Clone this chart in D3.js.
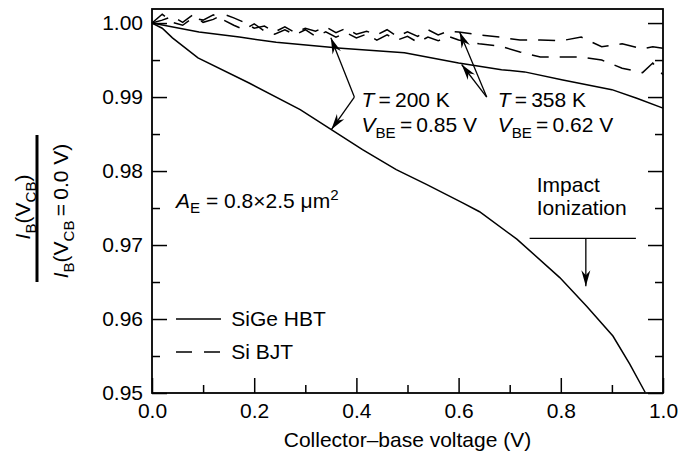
<!DOCTYPE html>
<html>
<head>
<meta charset="utf-8">
<script src="https://cdnjs.cloudflare.com/ajax/libs/d3/7.8.5/d3.min.js"></script>
<style>
  body { margin: 0; background: #fff; }
  text { font-family: "Liberation Sans", Arial, sans-serif; fill: #000; }
</style>
</head>
<body>
<div id="chart"></div>
<script>
// SiGe HBT, T = 200 K (solid, lower)
var hbt200V = [0, 0.02, 0.04, 0.09, 0.19, 0.29, 0.351, 0.412, 0.478, 0.537, 0.608, 0.641, 0.714, 0.798, 0.851, 0.902, 0.935, 0.965];
var hbt200Ratio = [1.0, 0.9993, 0.9980, 0.9953, 0.9919, 0.9883, 0.9856, 0.9829, 0.9802, 0.9782, 0.9757, 0.9745, 0.9708, 0.9656, 0.9617, 0.9577, 0.9539, 0.9501];

// SiGe HBT, T = 358 K (solid, upper)
var hbt358V = [0, 0.092, 0.171, 0.243, 0.37, 0.494, 0.6, 0.684, 0.729, 0.804, 0.9, 0.95, 1.0];
var hbt358Ratio = [1.0, 0.9988, 0.9981, 0.9974, 0.9966, 0.9960, 0.9946, 0.9937, 0.9934, 0.9923, 0.9910, 0.9898, 0.9885];

// Si BJT (dashed), both temperatures share the same bias points
var bjtV = [0, 0.02, 0.04, 0.06, 0.08, 0.10, 0.12, 0.14, 0.16, 0.18, 0.20, 0.22, 0.24, 0.26, 0.28, 0.30,
  0.32, 0.34, 0.36, 0.38, 0.40, 0.42, 0.44, 0.46, 0.48, 0.50, 0.52, 0.54, 0.56, 0.58, 0.60,
  0.64, 0.68, 0.72, 0.76, 0.80, 0.84, 0.88, 0.92, 0.96, 0.98, 1.0];
var bjtRatioA = [1.0, 1.0012, 1.0001, 0.9997, 1.0007, 1.0004, 1.0011, 1.0004, 0.9997, 0.9991, 0.9999, 0.9989, 0.9985, 0.9991, 0.9984, 0.9991,
  0.9982, 0.9988, 0.9981, 0.9987, 0.9980, 0.9985, 0.9977, 0.9984, 0.9977, 0.9982, 0.9974, 0.9981, 0.9976, 0.9982, 0.9977,
  0.9972, 0.9969, 0.9961, 0.9954, 0.9954, 0.9954, 0.9950, 0.9939, 0.9933, 0.9946, 0.9930];
var bjtRatioB = [1.0, 1.0004, 1.0009, 1.0001, 1.0011, 1.0001, 1.0005, 1.0012, 1.0007, 1.0001, 0.9993, 0.9996, 0.9988, 0.9995, 0.9987, 0.9993,
  0.9989, 0.9995, 0.9987, 0.9993, 0.9985, 0.9989, 0.9984, 0.9991, 0.9982, 0.9988, 0.9982, 0.9991, 0.9984, 0.9989, 0.9988,
  0.9984, 0.9981, 0.9977, 0.9977, 0.9976, 0.9981, 0.9968, 0.9972, 0.9965, 0.9968, 0.9966];

// ticks
var xMajorTicks = [0.0, 0.2, 0.4, 0.6, 0.8, 1.0];
var xMinorTicks = [0.1, 0.3, 0.5, 0.7, 0.9];
var yMajorTicks = [0.95, 0.96, 0.97, 0.98, 0.99, 1.00];
var yMinorTicks = [0.955, 0.965, 0.975, 0.985, 0.995];

var width = 678, height = 454;
var margin = { top: 9, right: 15, bottom: 61, left: 152 };
var fs = 21;

var svg = d3.select("#chart").append("svg")
  .attr("width", width)
  .attr("height", height);

var x = d3.scaleLinear().domain([0, 1]).range([margin.left, width - margin.right]);
var y = d3.scaleLinear().domain([0.95, 1.0019]).range([height - margin.bottom, margin.top]);

//arrow head marker
svg.append("defs").append("marker")
  .attr("id", "arrow")
  .attr("markerUnits", "userSpaceOnUse")
  .attr("viewBox", "-18 -6 20 12")
  .attr("markerWidth", 20)
  .attr("markerHeight", 12)
  .attr("refX", 0)
  .attr("refY", 0)
  .attr("orient", "auto")
  .append("path")
  .attr("d", "M0,0 L-16,-4.5 L-11,0 L-16,4.5 Z")
  .style("fill", "#000");

//helper: text with italic / subscript / superscript pieces
function richText(parent, px, py, parts, size, anchor) {
  var t = parent.append("text")
    .attr("x", px)
    .attr("y", py)
    .style("font-size", size + "px")
    .style("text-anchor", anchor || "start");
  var cur = 0;
  parts.forEach(function(p) {
    var off = 0, sz = size;
    if (p.sub) { off = size * 0.28; sz = size * 0.72; }
    if (p.sup) { off = -size * 0.38; sz = size * 0.72; }
    var s = t.append("tspan").text(p.t).attr("dy", off - cur).style("font-size", sz + "px");
    if (p.i) s.style("font-style", "italic");
    cur = off;
  });
  return t;
}

//axes (inward ticks)
function drawAxis(axis, tx, ty, cls) {
  var g = svg.append("g")
    .attr("transform", "translate(" + tx + "," + ty + ")")
    .call(axis);
  g.select(".domain").remove();
  g.selectAll("line").style("stroke", "#000").style("stroke-width", 1.5);
  g.selectAll("text").style("font-size", fs + "px").style("font-family", "'Liberation Sans', Arial, sans-serif");
  return g;
}
var fmt = d3.format(".2f");
drawAxis(d3.axisLeft(y).tickValues(yMajorTicks).tickSize(-15).tickPadding(9).tickFormat(fmt), margin.left, 0);
drawAxis(d3.axisLeft(y).tickValues(yMinorTicks).tickSize(-8).tickFormat(""), margin.left, 0);
drawAxis(d3.axisRight(y).tickValues(yMajorTicks).tickSize(-15).tickFormat(""), width - margin.right, 0);
drawAxis(d3.axisRight(y).tickValues(yMinorTicks).tickSize(-8).tickFormat(""), width - margin.right, 0);
drawAxis(d3.axisBottom(x).tickValues(xMajorTicks).tickSize(-15).tickPadding(10).tickFormat(d3.format(".1f")), 0, height - margin.bottom);
drawAxis(d3.axisBottom(x).tickValues(xMinorTicks).tickSize(-8).tickFormat(""), 0, height - margin.bottom);

//frame
svg.append("rect")
  .attr("x", margin.left)
  .attr("y", margin.top)
  .attr("width", width - margin.left - margin.right)
  .attr("height", height - margin.top - margin.bottom)
  .style("fill", "none")
  .style("stroke", "#000")
  .style("stroke-width", 1.8);

//curves
var line = d3.line()
  .x(function(d) { return x(d[0]); })
  .y(function(d) { return y(d[1]); });
function drawCurve(xs, ys, dashed) {
  svg.append("path")
    .datum(d3.zip(xs, ys))
    .attr("d", line)
    .style("fill", "none")
    .style("stroke", "#000")
    .style("stroke-width", 1.5)
    .style("stroke-dasharray", dashed ? "17,11" : null);
}
drawCurve(bjtV, bjtRatioA, true);
drawCurve(bjtV, bjtRatioB, true);
drawCurve(hbt358V, hbt358Ratio, false);
drawCurve(hbt200V, hbt200Ratio, false);

//annotation arrows
function arrow(x0, y0, x1, y1) {
  svg.append("line")
    .attr("x1", x(x0)).attr("y1", y(y0))
    .attr("x2", x(x1)).attr("y2", y(y1))
    .style("stroke", "#000")
    .style("stroke-width", 1.3)
    .attr("marker-end", "url(#arrow)");
}
arrow(0.396, 0.9900, 0.350, 0.9980);
arrow(0.396, 0.9900, 0.351, 0.9856);
arrow(0.655, 0.9900, 0.602, 0.9988);
arrow(0.655, 0.9900, 0.606, 0.9944);

//T and V_BE labels
richText(svg, x(0.41), y(0.98868), [{ t: "T", i: true }, { t: "\u2009=\u2009200 K" }], fs);
richText(svg, x(0.41), y(0.98531), [{ t: "V", i: true }, { t: "BE", sub: true }, { t: "\u2009=\u20090.85 V" }], fs);
richText(svg, x(0.6765), y(0.98868), [{ t: "T", i: true }, { t: "\u2009=\u2009358 K" }], fs);
richText(svg, x(0.6765), y(0.98531), [{ t: "V", i: true }, { t: "BE", sub: true }, { t: "\u2009=\u20090.62 V" }], fs);

//emitter area
richText(svg, x(0.047), y(0.97507), [{ t: "A", i: true }, { t: "E", sub: true }, { t: " = 0.8\u00d72.5 \u03bcm" }, { t: "2", sup: true }], fs);

//impact ionization
richText(svg, x(0.753), y(0.97722), [{ t: "Impact" }], fs);
richText(svg, x(0.753), y(0.97412), [{ t: "Ionization" }], fs);
svg.append("line")
  .attr("x1", x(0.739)).attr("x2", x(0.947))
  .attr("y1", y(0.97089)).attr("y2", y(0.97089))
  .style("stroke", "#000").style("stroke-width", 1.3);
arrow(0.849, 0.97089, 0.849, 0.96442);

//legend
var legendItems = ["SiGe HBT", "Si BJT"];
var legendY = [0.96, 0.95555];
legendItems.forEach(function(name, i) {
  svg.append("line")
    .attr("x1", x(0.047)).attr("x2", x(0.135))
    .attr("y1", y(legendY[i])).attr("y2", y(legendY[i]))
    .style("stroke", "#000")
    .style("stroke-width", 1.5)
    .style("stroke-dasharray", i == 1 ? "16,12" : null);
  svg.append("text")
    .text(name)
    .attr("x", x(0.155))
    .attr("y", y(legendY[i]) + 7)
    .style("font-size", fs + "px");
});

//x axis title
svg.append("text")
  .text("Collector\u2013base voltage (V)")
  .attr("x", (x(0) + x(1)) / 2)
  .attr("y", 447)
  .style("text-anchor", "middle")
  .style("font-size", fs + "px");

//y axis title as a fraction
var yl = svg.append("g").attr("transform", "rotate(-90)");
richText(yl, -207, 30, [{ t: "I", i: true }, { t: "B", sub: true }, { t: "(V" }, { t: "CB", sub: true }, { t: ")" }], fs, "middle");
richText(yl, -211, 68, [{ t: "I", i: true }, { t: "B", sub: true }, { t: "(V" }, { t: "CB", sub: true }, { t: "\u2009=\u20090.0 V)" }], fs, "middle");
svg.append("line")
  .attr("x1", 37).attr("x2", 37)
  .attr("y1", 135).attr("y2", 282)
  .style("stroke", "#000")
  .style("stroke-width", 3);
</script>
</body>
</html>
